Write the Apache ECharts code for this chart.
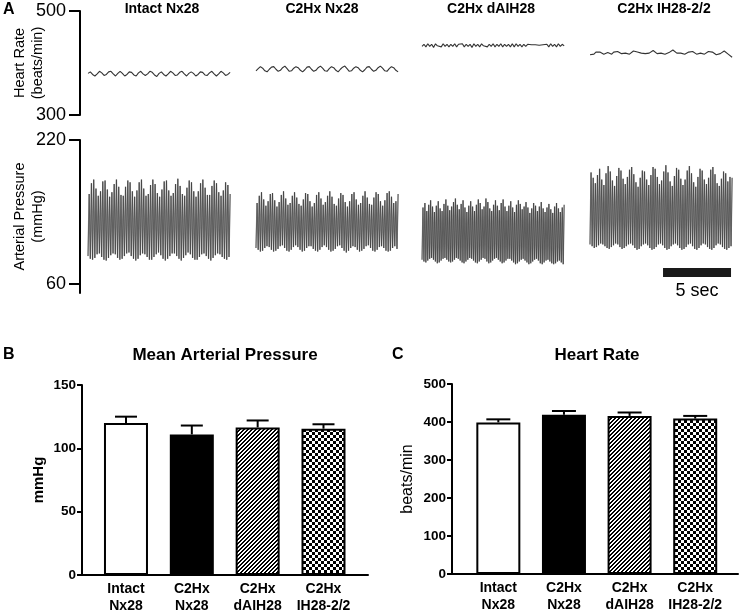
<!DOCTYPE html>
<html><head><meta charset="utf-8">
<script src="https://cdn.jsdelivr.net/npm/echarts@6/dist/echarts.min.js"></script>
<style>html,body{margin:0;padding:0;background:#fff}#c{width:740px;height:612px}</style>
</head><body><div id="c"></div>
<script>
// ---------------- DATA ----------------
const groupTitles = ['Intact Nx28', 'C2Hx Nx28', 'C2Hx dAIH28', 'C2Hx IH28-2/2'];
const barCategories = ['Intact\nNx28', 'C2Hx\nNx28', 'C2Hx\ndAIH28', 'C2Hx\nIH28-2/2'];

// Panel A – beat-by-beat heart rate traces (beats/min)
const hrIntact = [380,383,378,375,379,384,381,376,378,383,384,379,375,380,384,380,375,378,383,382,377,375,381,384,379,376,379,384,382,377,374,380,383,378,375,379,384,381,376,377,382,384,379,375,380,383,380,375,378,383,382,377,376,381,384,379,375,379,384,381,376,378,382];
const hrC2Nx = [385,389,393,390,385,383,388,392,393,388,384,386,391,394,389,384,385,390,393,391,386,383,387,392,393,388,384,386,391,394,390,385,384,389,393,391,386,383,388,392,394,389,384,385,390,393,391,386,383,387,392,393,388,384,386,391,394,390,385,384,389,393,391,386,383];
const hrDAIH = [432,436,431,437,432,436,430,437,433,436,431,437,432,436,431,436,432,437,431,436,433,437,431,436,432,436,430,437,432,436,431,437,433,436,431,436,432,437,431,436,432,437,431,436,432,436,431,437,431,437,432,436,431,436,432,436,433,435,433,435,432,434,433,435,432,436,431,437,432,436,431,437,432,436,433];
const hrIH = [416,414,417,421,423,421,418,417,419,420,418,417,421,424,422,419,418,420,419,418,417,420,423,425,421,418,419,420,418,417,419,422,424,421,418,417,419,418,417,416,420,423,425,422,419,418,419,418,417,419,421,424,422,419,417,418,419,418,417,420,422,424,421,418,416,419,418,420,423,421,417,414,411];

// Panel A – arterial pressure, systolic / diastolic per beat (mmHg)
const apIntactSys = [160,172,176,166,158,163,174,175,165,157,162,171,176,168,159,158,168,175,173,163,157,164,173,176,166,158,160,170,176,171,161,157,165,174,175,164,158,161,171,177,169,160,158,167,175,173,163,157,163,172,176,167,159,159,169,175,172,162,158,164,173,170,160];
const apIntactDia = [91,88,87,89,93,94,90,87,86,89,92,94,93,89,87,88,91,94,95,91,88,86,88,92,94,93,90,87,87,90,93,95,92,88,86,88,91,94,94,91,88,86,89,92,95,93,89,87,87,90,93,94,91,88,86,89,92,94,93,90,88,87,90];
const apC2NxSys = [150,158,162,154,147,152,160,161,153,146,151,159,163,155,148,150,158,162,156,149,147,154,161,160,152,146,150,159,162,155,148,151,158,163,157,149,147,155,161,159,151,146,152,160,162,154,148,150,158,163,156,149,148,156,162,160,152,147,153,161,163,157,150,152,160];
const apC2NxDia = [100,98,96,97,100,102,101,98,96,97,99,102,103,100,97,96,98,101,103,101,98,96,97,100,102,102,99,97,96,98,101,103,101,98,96,97,99,102,103,100,97,95,97,100,102,101,98,96,97,99,102,103,100,97,96,98,101,102,100,97,96,97,100,102,99];
const apDAIHSys = [145,150,141,148,153,146,140,147,152,144,141,149,154,147,142,146,151,155,148,143,149,153,145,140,147,152,146,141,148,154,150,143,146,155,151,144,141,148,153,147,142,150,154,146,141,147,152,145,140,148,153,149,143,146,151,145,139,144,150,147,141,146,151,144,140,145,149,143,139,146,150,144,140,145,148];
const apDAIHDia = [87,85,84,86,88,89,87,85,83,84,86,88,89,87,85,84,85,87,89,88,86,84,83,85,87,89,88,86,84,83,85,87,89,88,85,83,84,86,88,89,87,85,83,84,86,88,88,86,84,82,83,85,87,88,86,84,82,83,85,87,88,86,83,82,84,86,87,85,83,82,83,85,86,84,82];
const apIHSys = [184,178,172,181,188,176,170,183,191,185,175,169,180,189,186,177,171,179,187,190,182,173,168,178,186,185,176,170,181,190,188,179,171,175,185,192,184,174,169,180,189,187,177,170,176,186,191,183,173,168,179,188,186,176,171,178,187,190,182,172,169,177,185,183,174,179,178];
const apIHDia = [104,102,100,101,103,105,104,102,100,99,101,103,105,104,101,99,100,102,104,105,103,100,98,99,102,104,105,103,100,98,99,101,104,105,103,100,98,99,102,104,105,103,100,98,99,101,104,105,102,99,98,100,103,105,104,101,99,98,100,103,105,104,101,99,98,100,102];

const hrTraces = [hrIntact, hrC2Nx, hrDAIH, hrIH];
const apSys = [apIntactSys, apC2NxSys, apDAIHSys, apIHSys];
const apDia = [apIntactDia, apC2NxDia, apDAIHDia, apIHDia];

const hrTickValues = [300, 500];
const apTickValues = [60, 220];
const scaleBarSeconds = 5;

// Panel B / C – group means and SEM
const mapMean = [120, 111, 116.5, 115.5];
const mapSem  = [5, 7, 5.5, 3.5];
const hrMean  = [399, 419, 416, 409];
const hrSem   = [8, 10, 9, 7];

// ---------------- LAYOUT ----------------
const FONT = '"Liberation Sans", Arial, Helvetica, sans-serif';
const SEG_START = [0.59, 12.94, 25.15, 37.5];   // seconds on the shared time axis
const SEG_DUR = 10.45;
const TIME_MAX = 48.53;
const SCALE_X0 = 42.87, SCALE_Y = 72.8;

function makeHatch() {
  const c = document.createElement('canvas'); c.width = 8; c.height = 8;
  const ctx = c.getContext('2d');
  ctx.fillStyle = '#fff'; ctx.fillRect(0, 0, 8, 8);
  ctx.fillStyle = '#000';
  for (let x = 0; x < 8; x++) for (let y = 0; y < 8; y++) if ((x + y) % 4 < 2) ctx.fillRect(x, y, 1, 1);
  return c;
}
function makeChecker() {
  const c = document.createElement('canvas'); c.width = 6; c.height = 6;
  const ctx = c.getContext('2d');
  ctx.fillStyle = '#fff'; ctx.fillRect(0, 0, 6, 6);
  ctx.fillStyle = '#000'; ctx.fillRect(0, 0, 3, 3); ctx.fillRect(3, 3, 3, 3);
  return c;
}
const barFills = ['#ffffff', '#000000',
  { image: makeHatch(), repeat: 'repeat' },
  { image: makeChecker(), repeat: 'repeat' }];

const series = [];
hrTraces.forEach((arr, g) => {
  const n = arr.length;
  series.push({
    type: 'line', xAxisIndex: 0, yAxisIndex: 0, symbol: 'none', silent: true,
    lineStyle: { color: '#333', width: 1.1 },
    data: arr.map((v, i) => [SEG_START[g] + i * SEG_DUR / (n - 1), v])
  });
});
apSys.forEach((sys, g) => {
  const dia = apDia[g];
  const n = Math.min(sys.length, dia.length);
  const m = 2 * n;
  const pts = [];
  for (let i = 0; i < n; i++) {
    pts.push([SEG_START[g] + (2 * i) * SEG_DUR / (m - 1), dia[i]]);
    pts.push([SEG_START[g] + (2 * i + 1) * SEG_DUR / (m - 1), sys[i]]);
  }
  series.push({
    type: 'line', xAxisIndex: 1, yAxisIndex: 1, symbol: 'none', silent: true,
    lineStyle: { color: '#a0a0a0', width: 1.4 }, data: pts
  });
  series.push({
    type: 'line', xAxisIndex: 1, yAxisIndex: 1, symbol: 'none', silent: true,
    lineStyle: { color: '#2a2a2a', width: 0.55 }, data: pts
  });
});
// scale bar
series.push({
  type: 'line', xAxisIndex: 1, yAxisIndex: 1, symbol: 'none', silent: true,
  lineStyle: { color: '#1a1a1a', width: 9, cap: 'butt' },
  data: [[SCALE_X0, SCALE_Y], [SCALE_X0 + scaleBarSeconds, SCALE_Y]]
});

function barSeries(xi, yi, means) {
  return {
    type: 'bar', xAxisIndex: xi, yAxisIndex: yi, barWidth: 44, silent: true, z: 2,
    data: means.map((v, i) => ({ value: [i + 1, v], itemStyle: { color: barFills[i], borderColor: '#000', borderWidth: 2 } }))
  };
}
function errSeries(xi, yi, means, sems, hw) {
  return {
    type: 'custom', xAxisIndex: xi, yAxisIndex: yi, z: 3, silent: true,
    data: means.map((m, i) => [i + 1, m, m + sems[i]]),
    renderItem(params, api) {
      const x = api.value(0);
      const b = api.coord([x, api.value(1)]);
      const t = api.coord([x, api.value(2)]);
      return { type: 'group', children: [
        { type: 'line', shape: { x1: b[0], y1: b[1], x2: t[0], y2: t[1] }, style: { stroke: '#000', lineWidth: 2 } },
        { type: 'line', shape: { x1: t[0] - hw, y1: t[1], x2: t[0] + hw, y2: t[1] }, style: { stroke: '#000', lineWidth: 2 } }
      ] };
    }
  };
}
series.push(barSeries(2, 2, mapMean), errSeries(2, 2, mapMean, mapSem, 11));
series.push(barSeries(3, 3, hrMean), errSeries(3, 3, hrMean, hrSem, 12));

const axisLineBlack = { show: true, lineStyle: { color: '#000', width: 2 } };
function traceYAxis(gi, min, max, ticks, name) {
  return {
    type: 'value', gridIndex: gi, min: min, max: max,
    axisLine: axisLineBlack,
    axisTick: { show: true, length: 11, customValues: ticks, lineStyle: { color: '#000', width: 2 } },
    axisLabel: { customValues: ticks, fontSize: 18, color: '#000', fontFamily: FONT, margin: 14 },
    splitLine: { show: false },
    name: name, nameLocation: 'middle', nameRotate: 90, nameGap: 33, nameMoveOverlap: false,
    nameTextStyle: { fontSize: 14.5, color: '#000', fontFamily: FONT, lineHeight: 18, align: 'center' }
  };
}
function barXAxis(gi, min, max) {
  return {
    type: 'value', gridIndex: gi, min: min, max: max,
    axisLine: axisLineBlack, axisTick: { show: false }, splitLine: { show: false },
    axisLabel: { customValues: [1, 2, 3, 4], formatter: v => barCategories[Math.round(v) - 1] || '',
      fontSize: 14, fontWeight: 'bold', color: '#000', fontFamily: FONT, lineHeight: 17, margin: 6 }
  };
}
function barYAxis(gi, max, interval, name, bold, nameSize) {
  return {
    type: 'value', gridIndex: gi, min: 0, max: max, interval: interval,
    axisLine: axisLineBlack,
    axisTick: { show: true, length: 5, lineStyle: { color: '#000', width: 2 } },
    axisLabel: { fontSize: 13.5, fontWeight: 'bold', color: '#000', fontFamily: FONT, margin: 6 },
    splitLine: { show: false },
    name: name, nameLocation: 'middle', nameRotate: 90, nameGap: 36,
    nameTextStyle: { fontSize: nameSize, fontWeight: bold ? 'bold' : 'normal', color: '#000', fontFamily: FONT }
  };
}

const graphic = [];
function txt(text, x, y, size, bold, align) {
  graphic.push({ type: 'text', silent: true, style: { text: text, x: x, y: y, fill: '#000',
    font: (bold ? 'bold ' : '') + size + 'px ' + FONT, textAlign: align || 'center', textVerticalAlign: 'middle' } });
}
txt('A', 3, 10, 16, true, 'left');
txt('B', 3, 355, 16, true, 'left');
txt('C', 392, 355, 16, true, 'left');
const titleX = [162, 322, 491, 664];
groupTitles.forEach((t, i) => txt(t, titleX[i], 9, 14, true));
txt('Mean Arterial Pressure', 225, 355, 17, true);
txt('Heart Rate', 597, 355, 17, true);
txt('5 sec', 697, 291, 18, false);

const option = {
  animation: false,
  backgroundColor: '#fff',
  textStyle: { fontFamily: FONT },
  grid: [
    { left: 80, top: 11, width: 660, height: 104, outerBoundsMode: 'none', containLabel: false },
    { left: 80, top: 140, width: 660, height: 153, outerBoundsMode: 'none', containLabel: false },
    { left: 82, top: 385, width: 286, height: 190, outerBoundsMode: 'none', containLabel: false },
    { left: 452, top: 384, width: 286, height: 190, outerBoundsMode: 'none', containLabel: false }
  ],
  xAxis: [
    { type: 'value', gridIndex: 0, min: 0, max: TIME_MAX, show: false },
    { type: 'value', gridIndex: 1, min: 0, max: TIME_MAX, show: false },
    barXAxis(2, 0.332, 4.676),
    barXAxis(3, 0.294, 4.652)
  ],
  yAxis: [
    traceYAxis(0, 300, 500, hrTickValues, 'Heart Rate\n(beats/min)'),
    traceYAxis(1, 50, 220, apTickValues, 'Arterial Pressure\n(mmHg)'),
    barYAxis(2, 150, 50, 'mmHg', true, 15),
    barYAxis(3, 500, 100, 'beats/min', false, 16)
  ],
  graphic: graphic,
  series: series
};
const chart = echarts.init(document.getElementById('c'), null, { renderer: 'canvas' });
chart.setOption(option);
</script></body></html>
